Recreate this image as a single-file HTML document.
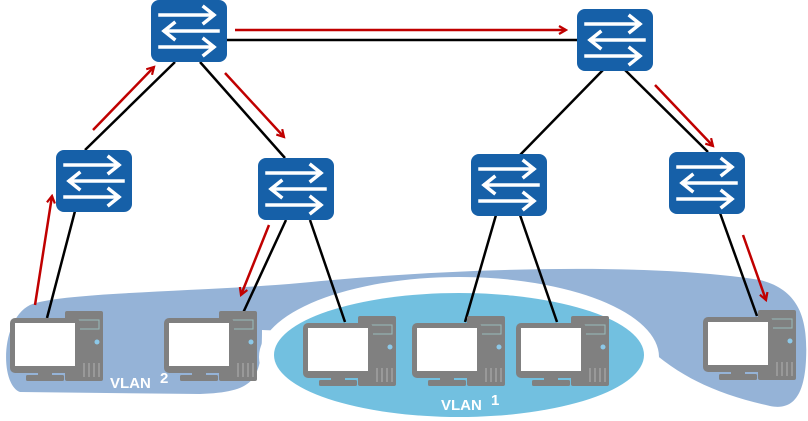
<!DOCTYPE html>
<html><head><meta charset="utf-8"><style>
html,body{margin:0;padding:0;background:#fff}
svg{display:block}
text{font-family:"Liberation Sans",sans-serif;font-weight:bold;fill:#fff}
</style></head><body>
<svg width="808" height="421" viewBox="0 0 808 421" xmlns="http://www.w3.org/2000/svg">
<defs>
<g id="sw">
<rect x="0" y="0" width="76" height="62" rx="8" fill="#1660a8"/>
<g stroke="#fff" stroke-width="3.5" fill="none" stroke-linecap="square">
<line x1="9" y1="15" x2="62" y2="15"/><polyline points="53,7 63,15 53,23"/>
<line x1="14" y1="31" x2="67" y2="31"/><polyline points="23,23 13,31 23,39"/>
<line x1="9" y1="47" x2="62" y2="47"/><polyline points="53,39 63,47 53,55"/>
</g>
</g>
<g id="pc">
<rect x="55" y="0" width="38" height="70" rx="2" fill="#808080"/>
<rect x="60" y="9" width="29" height="9" fill="none" stroke="#9bb" stroke-width="1"/>
<circle cx="87" cy="31" r="2.5" fill="#8cc8e8"/>
<g stroke="#aaa" stroke-width="1.2"><line x1="74" y1="52" x2="74" y2="66"/><line x1="79" y1="52" x2="79" y2="66"/><line x1="84" y1="52" x2="84" y2="66"/><line x1="89" y1="52" x2="89" y2="66"/></g>
<rect x="0" y="7" width="70" height="55" rx="5" fill="#808080"/>
<rect x="5" y="12" width="60" height="43" fill="#fff"/>
<rect x="28" y="62" width="14" height="3" fill="#808080"/>
<rect x="16" y="64" width="38" height="6" rx="1.5" fill="#808080"/>
</g>
<marker id="ar" markerWidth="10" markerHeight="10" refX="8" refY="5" orient="auto" markerUnits="userSpaceOnUse">
<polyline points="1,1 8,5 1,9" fill="none" stroke="#c00000" stroke-width="2.2"/>
</marker>
</defs>

<path d="M20 392 C0 385,0 320,30 305 C60 292,200 292,300 283 C450 268,650 262,760 280 C800 290,808 320,806 360 C804 400,790 410,770 406 C720 395,680 378,645 345 L262 330 C262 380,255 392,200 394 Z" fill="#95b3d7"/>
<ellipse cx="459" cy="357" rx="200" ry="80" fill="#fff"/>
<ellipse cx="459" cy="355" rx="185" ry="62" fill="#72c0e0"/>

<g stroke="#000" stroke-width="2.5">
<line x1="226" y1="40" x2="578" y2="40"/>
<line x1="175" y1="62" x2="85" y2="150"/>
<line x1="200" y1="62" x2="285" y2="158"/>
<line x1="603" y1="70" x2="520" y2="155"/>
<line x1="625" y1="70" x2="708" y2="152"/>
<line x1="75" y1="211" x2="47" y2="318"/>
<line x1="286" y1="220" x2="243" y2="313"/>
<line x1="310" y1="220" x2="345" y2="322"/>
<line x1="496" y1="215" x2="465" y2="322"/>
<line x1="520" y1="215" x2="557" y2="322"/>
<line x1="720" y1="213" x2="757" y2="316"/>
</g>
<g stroke="#c00000" stroke-width="2.5" fill="none" marker-end="url(#ar)">
<line x1="235" y1="30" x2="566" y2="30"/>
<line x1="93" y1="130" x2="154" y2="67"/>
<line x1="225" y1="73" x2="284" y2="137"/>
<line x1="655" y1="85" x2="713" y2="146"/>
<line x1="35" y1="305" x2="52" y2="196"/>
<line x1="269" y1="225" x2="241" y2="295"/>
<line x1="743" y1="235" x2="766" y2="300"/>
</g>

<use href="#sw" x="151" y="0"/>
<use href="#sw" x="577" y="9"/>
<use href="#sw" x="56" y="150"/>
<use href="#sw" x="258" y="158"/>
<use href="#sw" x="471" y="154"/>
<use href="#sw" x="669" y="152"/>

<use href="#pc" x="10" y="311"/>
<use href="#pc" x="164" y="311"/>
<use href="#pc" x="303" y="316"/>
<use href="#pc" x="412" y="316"/>
<use href="#pc" x="516" y="316"/>
<use href="#pc" x="703" y="310"/>

<text x="110" y="388" font-size="15">VLAN</text><text x="160" y="383" font-size="15">2</text>
<text x="441" y="410" font-size="15">VLAN</text><text x="491" y="405" font-size="15">1</text>
</svg>
</body></html>
